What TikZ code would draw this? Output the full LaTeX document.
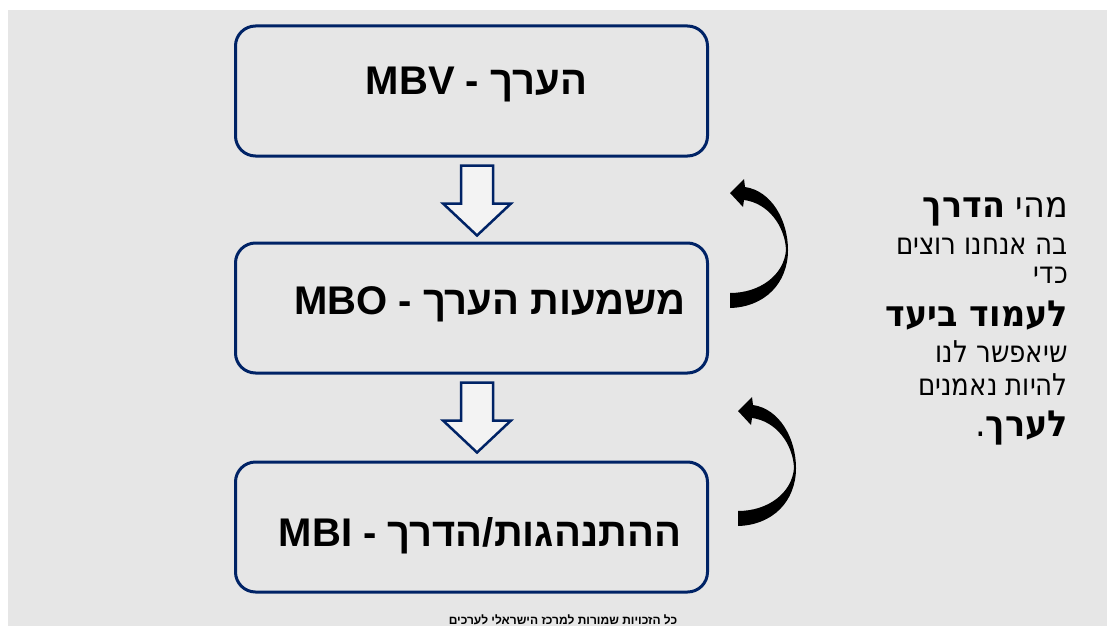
\documentclass[tikz,border=0pt]{standalone}
\usepackage{fontspec}
\usepackage{graphicx}
\usetikzlibrary{calc}
\TeXXeTstate=1
\newfontfamily\boxfont[Script=Hebrew]{Liberation Sans}
\newfontfamily\sidefont[Script=Hebrew]{DejaVu Sans}
\definecolor{navy}{RGB}{0,35,102}
\definecolor{bggray}{RGB}{230,230,230}
\definecolor{arrowfill}{RGB}{243,243,243}
\newcommand\sidelg[1]{\scalebox{0.93}[1]{\sidefont\fontsize{36}{40}\selectfont #1}}
\newcommand\sidesm[1]{\scalebox{0.87}[1]{\sidefont\fontsize{30}{34}\selectfont #1}}
\tikzset{
  stagebox/.style={draw=navy, line width=3pt, rounded corners=20pt,
    minimum width=472pt, minimum height=130pt, inner sep=0pt},
  boxtext/.style={font=\boxfont\bfseries\fontsize{40}{46}\selectfont, inner sep=0pt, anchor=base},
  sideline/.style={inner sep=0pt, anchor=base east},
  hollowarrow/.style={draw=navy, line width=2.5pt, fill=arrowfill, line join=miter},
  pics/curvedback/.style={code={
    \fill[black] (0,100) .. controls (30,100) and (54,82) .. (56,57)
      .. controls (55,33) and (38,10) .. (14,7)
      -- (13,14) -- (0,0) -- (14,-14) -- (15,-6)
      .. controls (42,-2) and (58,28) .. (58,57)
      .. controls (58,90) and (35,114) .. (0,115) -- cycle;
  }}
}
\begin{document}
\begin{tikzpicture}[x=1pt,y=-1pt]
\useasboundingbox (0,0) rectangle (1107,626);
\clip (0,0) rectangle (1107,626);
\fill[bggray] (8,10) rectangle (1107,626);

\node[stagebox] (b1) at (471.5,91) {};
\node[stagebox] (b2) at (471.5,308) {};
\node[stagebox] (b3) at (471.5,527) {};

\node[boxtext] (l1) at (476.5,94) {\beginR הערך - \beginL MBV\endL\endR};
\node[boxtext] (l2) at (490,314) {\beginR משמעות הערך - \beginL MBO\endL\endR};
\node[boxtext] (l3) at (480,546) {\beginR ההתנהגות/הדרך - \beginL MBI\endL\endR};

\path (b1.south) ++(5.5,8) coordinate (p1);
\path (b2.south) ++(5.5,8) coordinate (p2);
\draw[hollowarrow] (p1) ++(-16,0) -- ++(32,0) -- ++(0,38) -- ++(18,0) -- ++(-34,32) -- ++(-34,-32) -- ++(18,0) -- cycle;
\draw[hollowarrow] (p2) ++(-16,0) -- ++(32,0) -- ++(0,38) -- ++(18,0) -- ++(-34,32) -- ++(-34,-32) -- ++(18,0) -- cycle;

\pic at (730,193) {curvedback};
\pic at (738,411) {curvedback};

\node[sideline] (t1) at (1068,217) {\sidelg{\beginR מהי \textbf{הדרך}\endR}};
\node[sideline] (t2) at (1068,254) {\sidesm{\beginR בה אנחנו רוצים\endR}};
\node[sideline] (t3) at (1068,283) {\sidesm{\beginR כדי\endR}};
\node[sideline] (t4) at (1068,326) {\sidelg{\beginR\textbf{לעמוד ביעד}\endR}};
\node[sideline] (t5) at (1068,362) {\sidesm{\beginR שיאפשר לנו\endR}};
\node[sideline] (t6) at (1068,395) {\sidesm{\beginR להיות נאמנים\endR}};
\node[sideline] (t7) at (1068,436) {\sidelg{\beginR\textbf{לערך}.\endR}};

\node[font=\boxfont\bfseries\fontsize{12}{14}\selectfont, inner sep=0pt, anchor=base] (copy) at (563,624.5) {\beginR כל הזכויות שמורות למרכז הישראלי לערכים\endR};
\end{tikzpicture}
\end{document}
